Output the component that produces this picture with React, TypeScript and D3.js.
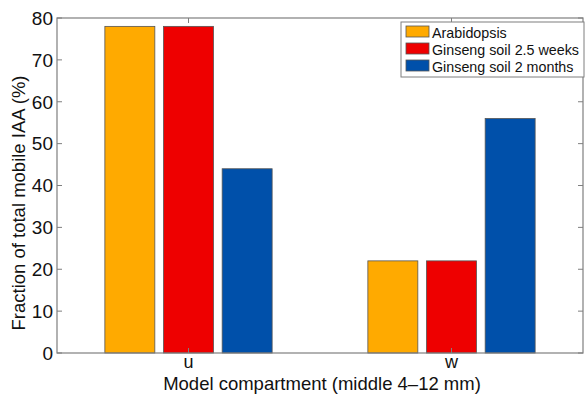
import * as d3 from 'd3'

const groups = ['u', 'w']
const series = ['Arabidopsis', 'Ginseng soil 2.5 weeks', 'Ginseng soil 2 months']
const colors = ['#FFAA00', '#EE0000', '#0050AA']
const arabidopsis = [78, 22]
const ginseng25w = [78, 22]
const ginseng2m = [44, 56]
const yTicks = [0, 10, 20, 30, 40, 50, 60, 70, 80]

const values = [arabidopsis, ginseng25w, ginseng2m]

export default function App() {
  const W = 585, H = 394
  const left = 57, right = 583, top = 18, bottom = 353
  const x = d3.scaleLinear().domain([0.5, 2.5]).range([left, right])
  const y = d3.scaleLinear().domain([0, 80]).range([bottom, top])
  const offset = 0.223
  const barW = 0.19
  const font = 'Liberation Sans, Arial, sans-serif'
  const axisColor = '#7f7f7f'

  return (
    <svg width={W} height={H} style={{ position: 'absolute', left: 0, top: 0, background: '#fff' }} fontFamily={font}>
      {/* bars */}
      {groups.map((g, gi) =>
        series.map((s, si) => {
          const cx = gi + 1 + (si - 1) * offset
          const x0 = x(cx - barW / 2)
          return (
            <rect key={g + s} x={x0} y={y(values[si][gi])} width={x(cx + barW / 2) - x0}
              height={bottom - y(values[si][gi])} fill={colors[si]} stroke="#555" strokeWidth={0.8} />
          )
        })
      )}
      {/* axes box */}
      <rect x={left} y={top} width={right - left} height={bottom - top} fill="none" stroke={axisColor} strokeWidth={1.2} />
      {yTicks.map(t => (
        <g key={t}>
          <line x1={left} x2={left + 5} y1={y(t)} y2={y(t)} stroke={axisColor} />
          <line x1={right} x2={right - 5} y1={y(t)} y2={y(t)} stroke={axisColor} />
          <text x={left - 4} y={y(t)} dy="0.36em" textAnchor="end" fontSize={19} fill="#111">{t}</text>
        </g>
      ))}
      {groups.map((g, gi) => (
        <g key={g}>
          <line x1={x(gi + 1)} x2={x(gi + 1)} y1={bottom} y2={bottom - 5} stroke={axisColor} />
          <line x1={x(gi + 1)} x2={x(gi + 1)} y1={top} y2={top + 5} stroke={axisColor} />
          <text x={x(gi + 1)} y={368} textAnchor="middle" fontSize={18} fill="#111">{g}</text>
        </g>
      ))}
      <text x={322} y={390} textAnchor="middle" fontSize={18.5} fill="#111">
        Model compartment (middle 4–12 mm)
      </text>
      <text transform={`translate(25,203) rotate(-90)`} textAnchor="middle" fontSize={18.5} fill="#111">
        Fraction of total mobile IAA (%)
      </text>
      {/* legend */}
      <rect x={401} y={22} width={183} height={55} fill="#fff" stroke={axisColor} />
      {series.map((s, si) => (
        <g key={s}>
          <rect x={406} y={26 + si * 17} width={23} height={11} fill={colors[si]} stroke="#555" strokeWidth={0.8} />
          <text x={432} y={32.5 + si * 17} dy="0.36em" fontSize={14.3} fill="#111">{s}</text>
        </g>
      ))}
    </svg>
  )
}
